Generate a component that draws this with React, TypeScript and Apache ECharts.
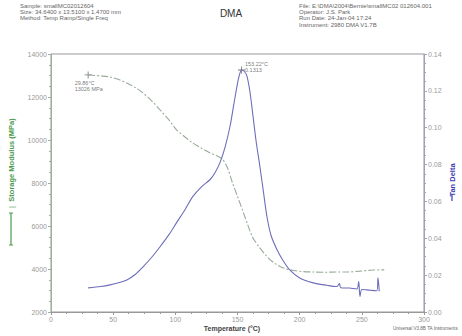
import React, { useEffect, useRef } from 'react';
import * as echarts from 'echarts';

const modTemp = [29.86, 40, 47.5, 55, 61, 68, 74, 81, 87.7, 95, 101, 108, 114, 121, 128, 134, 138, 142, 146, 150, 154, 158, 162, 168, 174, 180, 187, 195, 203, 211, 220, 230, 238, 248, 259, 268];
const modVal = [13026, 12980, 12930, 12800, 12650, 12430, 12190, 11820, 11400, 10920, 10470, 10130, 9860, 9620, 9400, 9250, 9100, 8700, 8000, 7380, 6740, 6100, 5490, 4980, 4560, 4260, 4050, 3930, 3880, 3860, 3850, 3860, 3860, 3900, 3950, 3960];

const tanTemp = [29.86, 40, 47.5, 55, 61, 68, 74, 81, 87.7, 95, 101, 108, 114, 121, 128, 132, 136, 140, 144, 147, 149.6, 151.5, 153.22, 155.5, 157.6, 160, 162.5, 165, 168, 171, 173.7, 177, 181.8, 187, 192, 200, 211, 222, 230, 232, 233, 240, 246, 247.5, 248.5, 250, 254, 257, 262, 263, 264];
const tanVal = [0.0131, 0.0138, 0.0147, 0.016, 0.0174, 0.0205, 0.0245, 0.0297, 0.0354, 0.0421, 0.0485, 0.0558, 0.0626, 0.0679, 0.0719, 0.0757, 0.0812, 0.0895, 0.1008, 0.1125, 0.1226, 0.1285, 0.1313, 0.1305, 0.128, 0.1195, 0.1062, 0.0925, 0.079, 0.0645, 0.0517, 0.0415, 0.0338, 0.0275, 0.0229, 0.0185, 0.0158, 0.0145, 0.0138, 0.0155, 0.0132, 0.013, 0.0125, 0.0165, 0.0085, 0.0122, 0.012, 0.0118, 0.0115, 0.0185, 0.0112];

const headerLeft = ['Sample: smallMC02012604', 'Size: 34.6400 x 13.5100 x 1.4700 mm', 'Method: Temp Ramp/Single Freq'];
const headerRight = ['File: E:\\DMA\\2004\\Bernie\\smallMC02 012604.001', 'Operator: J.S. Park', 'Run Date: 24-Jan-04 17:24', 'Instrument: 2980 DMA V1.7B'];

const modPeak = [29.86, 13026];
const modPeakLabel = ['29.86°C', '13026 MPa'];
const tanPeak = [153.22, 0.1313];
const tanPeakLabel = ['153.22°C', '0.1313'];

const plus = 'path://M4.4,0H5.6V4.4H10V5.6H5.6V10H4.4V5.6H0V4.4H4.4Z';
const FONT = 'Liberation Sans, Arial, sans-serif';

export default function App() {
  const ref = useRef<HTMLDivElement>(null);
  useEffect(() => {
    const chart = echarts.init(ref.current!, undefined, { renderer: 'svg' });
    const axisLabel = { fontSize: 7, color: '#9a9a9a', fontFamily: FONT };
    const headerText = (lines: string[], x: number) =>
      lines.map((t, i) => ({
        type: 'text', left: x, top: 3 + i * 6.2,
        style: { text: t, fontSize: 6, fill: '#666', fontFamily: FONT },
      }));
    chart.setOption({
      animation: false,
      backgroundColor: '#fff',
      textStyle: { fontFamily: FONT },
      grid: { left: 51, right: 38, top: 54, bottom: 24, show: true, borderColor: '#999', borderWidth: 1 },
      xAxis: {
        type: 'value', min: 0, max: 300, interval: 50,
        axisLine: { lineStyle: { color: '#999' } },
        axisTick: { length: 3, lineStyle: { color: '#999' } },
        minorTick: { show: true, splitNumber: 4, length: 2, lineStyle: { color: '#999' } },
        splitLine: { show: false },
        axisLabel: { ...axisLabel, margin: 4 },
      },
      yAxis: [
        {
          type: 'value', min: 2000, max: 14000, interval: 2000,
          axisLine: { show: true, lineStyle: { color: '#9db09d' } },
          axisTick: { show: true, length: 3, lineStyle: { color: '#9db09d' } },
          minorTick: { show: true, splitNumber: 4, length: 2, lineStyle: { color: '#9db09d' } },
          splitLine: { show: false },
          axisLabel: { ...axisLabel, margin: 4, formatter: (v: number) => String(v) },
        },
        {
          type: 'value', min: 0, max: 0.14, interval: 0.02, position: 'right',
          axisLine: { show: true, lineStyle: { color: '#a0a0c0' } },
          axisTick: { show: true, length: 3, lineStyle: { color: '#a0a0c0' } },
          minorTick: { show: true, splitNumber: 4, length: 2, lineStyle: { color: '#a0a0c0' } },
          splitLine: { show: false },
          axisLabel: { ...axisLabel, margin: 4, formatter: (v: number) => v.toFixed(2) },
        },
      ],
      series: [
        {
          type: 'line', yAxisIndex: 0, smooth: 0.3, showSymbol: false,
          data: modTemp.map((t, i) => [t, modVal[i]]),
          lineStyle: { color: '#98ac98', width: 1.1, type: [7, 2, 2, 2] },
        },
        {
          type: 'line', yAxisIndex: 1, smooth: 0.3, showSymbol: false,
          data: tanTemp.map((t, i) => [t, tanVal[i]]),
          lineStyle: { color: '#6e6eba', width: 1.1 },
        },
        {
          type: 'scatter', yAxisIndex: 0, symbol: plus, symbolSize: 7,
          itemStyle: { color: '#555' },
          data: [modPeak],
          label: {
            show: true, position: [-10, 8], align: 'left', verticalAlign: 'top',
            formatter: modPeakLabel.join('\n'), fontSize: 5.5, lineHeight: 6.5, color: '#555',
          },
        },
        {
          type: 'scatter', yAxisIndex: 1, symbol: plus, symbolSize: 7,
          itemStyle: { color: '#555' },
          data: [tanPeak],
          label: {
            show: true, position: [7, -6], align: 'left', verticalAlign: 'top',
            formatter: tanPeakLabel.join('\n'), fontSize: 5.5, lineHeight: 6.5, color: '#555',
          },
        },
      ],
      graphic: [
        ...headerText(headerLeft, 20),
        ...headerText(headerRight, 299),
        {
          type: 'text', left: 'center', top: 8,
          style: { text: 'DMA', fontSize: 10, fill: '#333', fontFamily: FONT },
        },
        {
          type: 'text', x: 11, y: 160, rotation: Math.PI / 2,
          style: { text: 'Storage Modulus (MPa)', fontSize: 7.5, fontWeight: 'bold', fill: '#4c9a4c', align: 'center', verticalAlign: 'middle', fontFamily: FONT },
        },
        {
          type: 'text', x: 11, y: 207, rotation: Math.PI / 2,
          style: { text: '|', fontSize: 7.5, fill: '#4c9a4c', align: 'center', verticalAlign: 'middle', fontFamily: FONT },
        },
        { type: 'line', shape: { x1: 11, y1: 213, x2: 11, y2: 245 }, style: { stroke: '#4c9a4c', lineWidth: 1.2 } },
        { type: 'line', shape: { x1: 9, y1: 213, x2: 13, y2: 213 }, style: { stroke: '#4c9a4c', lineWidth: 1 } },
        { type: 'line', shape: { x1: 9, y1: 245, x2: 13, y2: 245 }, style: { stroke: '#4c9a4c', lineWidth: 1 } },
        {
          type: 'text', x: 452, y: 180, rotation: Math.PI / 2,
          style: { text: 'Tan Delta', fontSize: 7.5, fontWeight: 'bold', fill: '#3b3bb0', align: 'center', verticalAlign: 'middle', fontFamily: FONT },
        },
        { type: 'line', shape: { x1: 452, y1: 195, x2: 452, y2: 201 }, style: { stroke: '#3b3bb0', lineWidth: 1.2 } },
        {
          type: 'text', x: 232, y: 328,
          style: { text: 'Temperature (°C)', fontSize: 7, fontWeight: 'bold', fill: '#444', align: 'center', verticalAlign: 'middle', fontFamily: FONT },
        },
        {
          type: 'text', x: 393, y: 328,
          style: { text: 'Universal V3.8B TA Instruments', fontSize: 4.6, fill: '#666', align: 'left', verticalAlign: 'middle', fontFamily: FONT },
        },
      ],
    });
    return () => chart.dispose();
  }, []);
  return <div ref={ref} style={{ width: 462, height: 336, position: 'absolute', left: 0, top: 0 }} />;
}
